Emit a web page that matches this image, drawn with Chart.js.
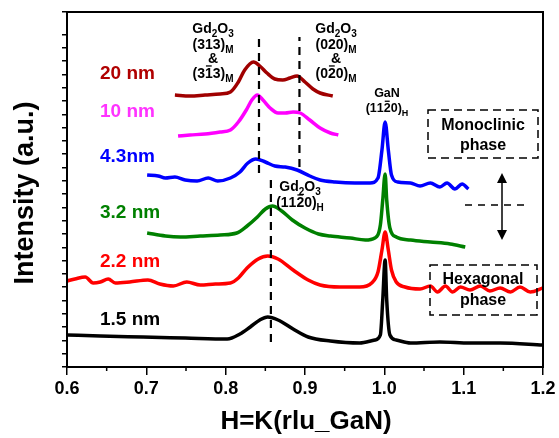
<!DOCTYPE html>
<html>
<head>
<meta charset="utf-8">
<script src="https://cdn.jsdelivr.net/npm/chart.js@4.4.1/dist/chart.umd.min.js"></script>
<style>
  body { margin: 0; background: #fff; }
  #chart { display: block; }
</style>
</head>
<body>
<canvas id="chart" width="559" height="438"></canvas>
<script>
'use strict';

var FONT = "'Liberation Sans', Arial, sans-serif";

// H=K (rlu GaN) and intensity (a.u., curves offset)
var seriesLabels = ['1.5 nm', '2.2 nm', '3.2 nm', '4.3nm', '10 nm', '20 nm'];
var seriesColors = ['#000000', '#ff0000', '#008000', '#0000ff', '#ff00ff', '#a00000'];
var labelColors  = ['#000000', '#ff0000', '#008000', '#0000ff', '#ff33ff', '#b00000'];

var h15 = [0.600, 0.642, 0.696, 0.749, 0.802, 0.818, 0.831, 0.843, 0.853, 0.866, 0.885, 0.904, 0.932,
           0.969, 0.988, 0.995, 0.998, 1.001, 1.003, 1.007, 1.015, 1.033, 1.070, 1.108, 1.146, 1.200];
var i15 = [32, 31, 30, 29, 28, 33, 40, 47, 50, 47, 38, 30, 26,
           24, 27, 32, 67, 107, 67, 32, 27, 24, 25, 24, 24, 22];

var h22 = [0.600, 0.610, 0.623, 0.633, 0.642, 0.652, 0.661, 0.679, 0.702, 0.717, 0.734, 0.751, 0.768,
           0.787, 0.806, 0.816, 0.827, 0.841, 0.853, 0.866, 0.885, 0.904, 0.919, 0.944, 0.969, 0.984,
           0.992, 0.997, 1.001, 1.005, 1.009, 1.015, 1.026, 1.045, 1.058, 1.067, 1.077, 1.086, 1.096,
           1.108, 1.121, 1.133, 1.146, 1.159, 1.171, 1.184, 1.200];
var i22 = [86, 88, 90, 84, 85, 88, 84, 85, 87, 83, 81, 85, 82,
           83, 84, 89, 99, 108, 111, 108, 97, 87, 82, 80, 80, 84,
           95, 117, 135, 117, 97, 85, 80, 78, 81, 75, 81, 75, 80,
           77, 81, 76, 79, 75, 80, 75, 79];

var h32 = [0.701, 0.724, 0.743, 0.768, 0.793, 0.814, 0.827, 0.840, 0.850, 0.859, 0.869, 0.884, 0.900,
           0.917, 0.932, 0.957, 0.976, 0.988, 0.995, 0.998, 1.001, 1.003, 1.007, 1.015, 1.033, 1.058,
           1.083, 1.102];
var i32 = [134, 131, 130, 131, 132, 134, 141, 150, 158, 161, 157, 147, 139,
           133, 131, 129, 127, 129, 142, 167, 193, 167, 139, 130, 127, 125,
           123, 120];

var h43 = [0.701, 0.715, 0.724, 0.736, 0.749, 0.764, 0.778, 0.790, 0.806, 0.818, 0.828, 0.838, 0.850,
           0.862, 0.875, 0.890, 0.906, 0.919, 0.938, 0.963, 0.982, 0.992, 0.997, 1.001, 1.005, 1.009,
           1.017, 1.033, 1.045, 1.058, 1.070, 1.079, 1.089, 1.098, 1.106];
var i43 = [192, 191, 189, 190, 187, 186, 189, 186, 189, 195, 204, 208, 205,
           201, 200, 197, 191, 187, 185, 184, 184, 189, 217, 245, 217, 192,
           185, 184, 181, 184, 180, 184, 178, 183, 178];

var h10 = [0.740, 0.755, 0.774, 0.793, 0.806, 0.816, 0.826, 0.833, 0.840, 0.847, 0.856, 0.866, 0.875,
           0.885, 0.894, 0.906, 0.919, 0.932, 0.942];
var i10 = [231, 232, 233, 235, 237, 245, 257, 267, 272, 267, 259, 254, 254,
           255, 254, 247, 239, 234, 232];

var h20 = [0.736, 0.755, 0.774, 0.793, 0.806, 0.816, 0.824, 0.835, 0.843, 0.852, 0.862, 0.872, 0.881,
           0.890, 0.900, 0.910, 0.919, 0.935];
var i20 = [272, 271, 272, 273, 275, 285, 297, 305, 301, 294, 288, 287, 289,
           291, 285, 278, 274, 271];

// dashed guide lines at peak positions
var refH    = [0.842, 0.893, 0.857];
var refFrom = [194, 200, 25];
var refTo   = [330, 330, 187];

var xTicks = [0.6, 0.7, 0.8, 0.9, 1.0, 1.1, 1.2];

function points(xs, ys) {
    return xs.map(function (x, i) { return { x: x, y: ys[i] }; });
}

var curveX = [h15, h22, h32, h43, h10, h20];
var curveY = [i15, i22, i32, i43, i10, i20];

var datasets = [];
refH.forEach(function (h, i) {
    datasets.push({
        label: 'ref' + i,
        data: [{ x: h, y: refFrom[i] }, { x: h, y: refTo[i] }],
        borderColor: '#000',
        borderWidth: 2.2,
        borderDash: [8, 6],
        pointRadius: 0
    });
});
// green on top, as in the figure
[2, 1, 0, 3, 4, 5].forEach(function (k) {
    datasets.push({
        label: seriesLabels[k],
        data: points(curveX[k], curveY[k]),
        borderColor: seriesColors[k],
        borderWidth: 3.5,
        pointRadius: 0,
        cubicInterpolationMode: 'monotone'
    });
});

// text with _x = subscript char, ~x = overbar char
function richText(ctx, str, cx, y, size) {
    var parts = [], i = 0;
    while (i < str.length) {
        var c = str[i];
        if (c === '_') { parts.push({ t: str[i + 1], sub: true }); i += 2; }
        else if (c === '~') { parts.push({ t: str[i + 1], bar: true }); i += 2; }
        else { parts.push({ t: c }); i += 1; }
    }
    var subSize = Math.round(size * 0.68);
    var w = 0;
    parts.forEach(function (p) {
        ctx.font = 'bold ' + (p.sub ? subSize : size) + 'px ' + FONT;
        p.w = ctx.measureText(p.t).width;
        w += p.w;
    });
    var x = cx - w / 2;
    ctx.textAlign = 'left';
    ctx.textBaseline = 'alphabetic';
    parts.forEach(function (p) {
        ctx.font = 'bold ' + (p.sub ? subSize : size) + 'px ' + FONT;
        ctx.fillText(p.t, x, y + (p.sub ? size * 0.28 : 0));
        if (p.bar) {
            ctx.beginPath();
            ctx.lineWidth = 1.3;
            ctx.moveTo(x + 1, y - size * 0.86);
            ctx.lineTo(x + p.w - 1, y - size * 0.86);
            ctx.stroke();
        }
        x += p.w;
    });
}

function dashedBox(ctx, x0, y0, x1, y1) {
    ctx.save();
    ctx.setLineDash([8, 5]);
    ctx.lineWidth = 1.5;
    ctx.strokeRect(x0, y0, x1 - x0, y1 - y0);
    ctx.restore();
}

var overlay = {
    id: 'overlay',
    afterDatasetsDraw: function (chart) {
        var ctx = chart.ctx, a = chart.chartArea;
        var xs = chart.scales.x;
        ctx.save();
        ctx.strokeStyle = '#000';
        ctx.fillStyle = '#000';

        // frame
        ctx.lineWidth = 2;
        ctx.strokeRect(a.left, a.top, a.right - a.left, a.bottom - a.top);

        // minor x ticks
        ctx.lineWidth = 1.5;
        for (var k = 0; k < 6; k++) {
            var px = xs.getPixelForValue(0.65 + k * 0.1);
            ctx.beginPath();
            ctx.moveTo(px, a.bottom);
            ctx.lineTo(px, a.bottom + 4);
            ctx.stroke();
        }

        // curve labels
        ctx.font = 'bold 19px ' + FONT;
        ctx.textAlign = 'left';
        ctx.textBaseline = 'middle';
        var labelY = [320, 262, 213, 157, 112, 74];
        seriesLabels.forEach(function (s, i) {
            ctx.fillStyle = labelColors[i];
            ctx.fillText(s, 100, labelY[i]);
        });
        ctx.fillStyle = '#000';

        // peak annotations
        richText(ctx, 'Gd_2O_3', 213, 33, 14);
        richText(ctx, '(313)_M', 213, 49, 14);
        richText(ctx, '&', 213, 63, 14);
        richText(ctx, '(3~13)_M', 213, 78, 14);
        richText(ctx, 'Gd_2O_3', 336, 33, 14);
        richText(ctx, '(020)_M', 336, 49, 14);
        richText(ctx, '&', 336, 63, 14);
        richText(ctx, '(0~20)_M', 336, 78, 14);
        richText(ctx, 'GaN', 387, 97, 12.5);
        richText(ctx, '(11~20)_H', 387, 112, 12.5);
        richText(ctx, 'Gd_2O_3', 300, 191, 14);
        richText(ctx, '(11~20)_H', 300, 207, 14);

        // phase boxes
        dashedBox(ctx, 428, 110, 538, 158);
        dashedBox(ctx, 430, 265, 537, 315);
        ctx.font = 'bold 16px ' + FONT;
        ctx.textAlign = 'center';
        ctx.textBaseline = 'middle';
        ctx.fillText('Monoclinic', 483, 126);
        ctx.fillText('phase', 483, 146);
        ctx.fillText('Hexagonal', 483, 280);
        ctx.fillText('phase', 483, 301);

        // double arrow and dashed divider
        ctx.lineWidth = 1.5;
        ctx.beginPath();
        ctx.moveTo(502, 180);
        ctx.lineTo(502, 232);
        ctx.stroke();
        ctx.beginPath();
        ctx.moveTo(502, 173); ctx.lineTo(497, 183); ctx.lineTo(507, 183); ctx.closePath();
        ctx.moveTo(502, 240); ctx.lineTo(497, 230); ctx.lineTo(507, 230); ctx.closePath();
        ctx.fill();
        ctx.save();
        ctx.setLineDash([7, 6]);
        ctx.beginPath();
        ctx.moveTo(465, 205);
        ctx.lineTo(527, 205);
        ctx.stroke();
        ctx.restore();

        // axis titles
        ctx.font = 'bold 26px ' + FONT;
        ctx.fillText('H=K(rlu_GaN)', (a.left + a.right) / 2 + 1, 422);
        ctx.save();
        ctx.translate(26, 193);
        ctx.rotate(-Math.PI / 2);
        ctx.font = 'bold 27px ' + FONT;
        ctx.fillText('Intensity (a.u.)', 0, 0);
        ctx.restore();

        ctx.restore();
    }
};

new Chart(document.getElementById('chart'), {
    type: 'line',
    data: { datasets: datasets },
    options: {
        responsive: false,
        animation: false,
        layout: { padding: { top: 12, right: 16, left: 0, bottom: 0 } },
        plugins: { legend: { display: false }, tooltip: { enabled: false } },
        scales: {
            x: {
                type: 'linear',
                min: 0.6,
                max: 1.2,
                afterFit: function (s) { s.height = 71; },
                afterBuildTicks: function (s) {
                    s.ticks = xTicks.map(function (v) { return { value: v }; });
                },
                grid: { drawOnChartArea: false, color: '#000', tickLength: 8, lineWidth: 1.5 },
                border: { color: '#000', width: 2 },
                ticks: {
                    color: '#000',
                    padding: 3,
                    maxRotation: 0,
                    font: { family: FONT, size: 18, weight: 'bold' },
                    callback: function (v) { return v.toFixed(1); }
                }
            },
            y: {
                min: 0,
                max: 355,
                afterFit: function (s) { s.width = 67; },
                grid: { drawOnChartArea: false, color: '#000', tickLength: 5, lineWidth: 1.5 },
                border: { color: '#000', width: 2 },
                ticks: {
                    stepSize: 13.3,
                    autoSkip: false,
                    callback: function () { return ''; }
                }
            }
        }
    },
    plugins: [overlay]
});
</script>
</body>
</html>
